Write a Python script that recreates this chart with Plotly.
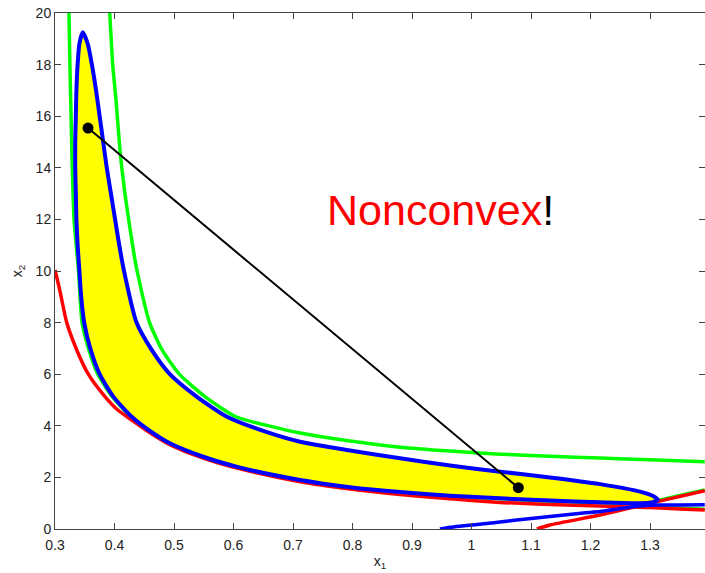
import plotly.graph_objects as go

# ---- data ----
# blue closed boundary of the feasible set, traced from the top tip down the left/lower side,
# round the right tip and back along the upper side
blue_loop_x = [0.3465, 0.341, 0.338, 0.336, 0.335, 0.334, 0.334, 0.335, 0.336, 0.338, 0.341, 0.344,
               0.349, 0.360, 0.375, 0.398, 0.429, 0.457, 0.493, 0.549, 0.611, 0.712, 0.796, 0.880,
               0.964, 1.048, 1.132, 1.216, 1.283, 1.302, 1.313,
               1.306, 1.283, 1.216, 1.132, 1.048, 0.964, 0.880, 0.796, 0.712, 0.645, 0.589, 0.538,
               0.493, 0.4625, 0.437, 0.416, 0.408, 0.401, 0.394, 0.387, 0.381, 0.375, 0.369, 0.362,
               0.355, 0.3465]
blue_loop_y = [19.25, 18.8, 18.0, 17.0, 16.0, 15.0, 14.0, 13.0, 12.0, 11.0, 10.0, 9.0,
               8.0, 6.94, 6.0, 5.13, 4.35, 3.84, 3.32, 2.80, 2.38, 1.90, 1.62, 1.43,
               1.29, 1.19, 1.10, 1.04, 1.00, 1.03, 1.13,
               1.27, 1.45, 1.74, 2.00, 2.22, 2.46, 2.74, 3.04, 3.38, 3.84, 4.35, 5.13,
               6.00, 6.94, 8.00, 10.0, 11.0, 12.0, 13.0, 14.0, 15.0, 16.0, 17.0, 18.0,
               18.8, 19.25]

# blue lower branch
blue_branch_x = [0.947, 0.964, 1.048, 1.076, 1.188, 1.216, 1.278, 1.31, 1.35, 1.392]
blue_branch_y = [0.0, 0.07, 0.27, 0.35, 0.62, 0.68, 0.88, 0.93, 0.935, 0.94]

# red curves
red1_x = [0.300, 0.308, 0.3197, 0.3365, 0.356, 0.384, 0.405, 0.429, 0.457, 0.493, 0.549, 0.611,
          0.712, 0.796, 0.880, 0.964, 1.048, 1.132, 1.216, 1.283, 1.300, 1.350, 1.392]
red1_y = [10.04, 9.26, 8.0, 6.94, 6.0, 5.13, 4.62, 4.22, 3.77, 3.27, 2.75, 2.33,
          1.83, 1.55, 1.34, 1.17, 1.03, 0.95, 0.89, 0.84, 0.83, 0.78, 0.74]
red2_x = [1.110, 1.132, 1.216, 1.266, 1.312, 1.392]
red2_y = [0.0, 0.155, 0.54, 0.81, 1.06, 1.48]

# green curves
green_left_x = [0.3235, 0.325, 0.327, 0.329, 0.332, 0.3364, 0.3395, 0.3455, 0.357, 0.372, 0.396,
                0.428, 0.457, 0.493, 0.549, 0.611, 0.712, 0.796, 0.880, 0.964, 1.048, 1.132,
                1.216, 1.283, 1.300, 1.350, 1.392]
green_left_y = [20.0, 18.0, 16.0, 14.0, 12.0, 10.81, 10.0, 8.0, 6.94, 6.0, 5.13,
                4.35, 3.84, 3.32, 2.80, 2.38, 1.88, 1.60, 1.41, 1.27, 1.17, 1.08,
                1.02, 0.96, 0.88, 0.80, 0.77]
green_up_x = [1.290, 1.312, 1.392]
green_up_y = [0.92, 1.09, 1.51]
green_right_x = [0.392, 0.397, 0.4025, 0.410, 0.419, 0.4316, 0.438, 0.459, 0.480, 0.509, 0.552,
                 0.604, 0.668, 0.712, 0.796, 0.880, 0.964, 1.048, 1.132, 1.216, 1.300, 1.392]
green_right_y = [20.0, 18.0, 16.63, 14.5, 12.75, 10.81, 10.0, 8.0, 6.94, 6.0, 5.13,
                 4.35, 3.95, 3.72, 3.41, 3.17, 3.02, 2.90, 2.82, 2.75, 2.68, 2.61]

# segment between two feasible points
seg_x = [0.3555, 1.0787]
seg_y = [15.54, 1.60]

x_ticks = [0.3, 0.4, 0.5, 0.6, 0.7, 0.8, 0.9, 1.0, 1.1, 1.2, 1.3]
x_tick_text = ["0.3", "0.4", "0.5", "0.6", "0.7", "0.8", "0.9", "1", "1.1", "1.2", "1.3"]
y_ticks = [0, 2, 4, 6, 8, 10, 12, 14, 16, 18, 20]

FONT = "Liberation Sans, Arial, Helvetica, sans-serif"
SPL = dict(shape="spline", smoothing=0.6)

fig = go.Figure()

fig.add_trace(go.Scatter(x=blue_loop_x, y=blue_loop_y, mode="lines", fill="toself",
                         fillcolor="#ffff00", line=dict(color="rgba(0,0,0,0)", width=0, **SPL),
                         hoverinfo="skip", showlegend=False))
for gx, gy in [(green_left_x, green_left_y), (green_up_x, green_up_y), (green_right_x, green_right_y)]:
    fig.add_trace(go.Scatter(x=gx, y=gy, mode="lines", line=dict(color="#00ff00", width=3.5, **SPL),
                             showlegend=False))
for rx, ry in [(red1_x, red1_y), (red2_x, red2_y)]:
    fig.add_trace(go.Scatter(x=rx, y=ry, mode="lines", line=dict(color="#ff0000", width=3.5, **SPL),
                             showlegend=False))
fig.add_trace(go.Scatter(x=blue_branch_x, y=blue_branch_y, mode="lines",
                         line=dict(color="#0000ff", width=3.5, **SPL), showlegend=False))
fig.add_trace(go.Scatter(x=blue_loop_x, y=blue_loop_y, mode="lines",
                         line=dict(color="#0000ff", width=4, **SPL), showlegend=False))
fig.add_trace(go.Scatter(x=seg_x, y=seg_y, mode="lines+markers",
                         line=dict(color="black", width=2),
                         marker=dict(color="black", size=11), showlegend=False))

fig.add_annotation(x=0.948, y=12.36, xref="x", yref="y", showarrow=False,
                   text="<span style='color:#ff0000'>Nonconvex</span>!",
                   font=dict(family=FONT, size=43, color="black"))

axis_common = dict(showgrid=False, zeroline=False, showline=True, linecolor="#444444", linewidth=1,
                   mirror="ticks", ticks="inside", ticklen=6, tickcolor="#444444",
                   tickfont=dict(family=FONT, size=14, color="#222222"))

fig.update_xaxes(range=[0.3, 0.3 + 650 / 595], tickvals=x_ticks, ticktext=x_tick_text,
                 ticklabelstandoff=3,
                 title=dict(text="x<sub>1</sub>", font=dict(family=FONT, size=14, color="#222222"), standoff=4),
                 **axis_common)
fig.update_yaxes(range=[0, 20], tickvals=y_ticks,
                 title=dict(text="x<sub>2</sub>", font=dict(family=FONT, size=14, color="#222222"), standoff=9),
                 **axis_common)

fig.update_layout(width=705, height=573, margin=dict(l=55, r=0, t=13, b=44),
                  plot_bgcolor="white", paper_bgcolor="white", showlegend=False)

fig.write_html("out.html")
